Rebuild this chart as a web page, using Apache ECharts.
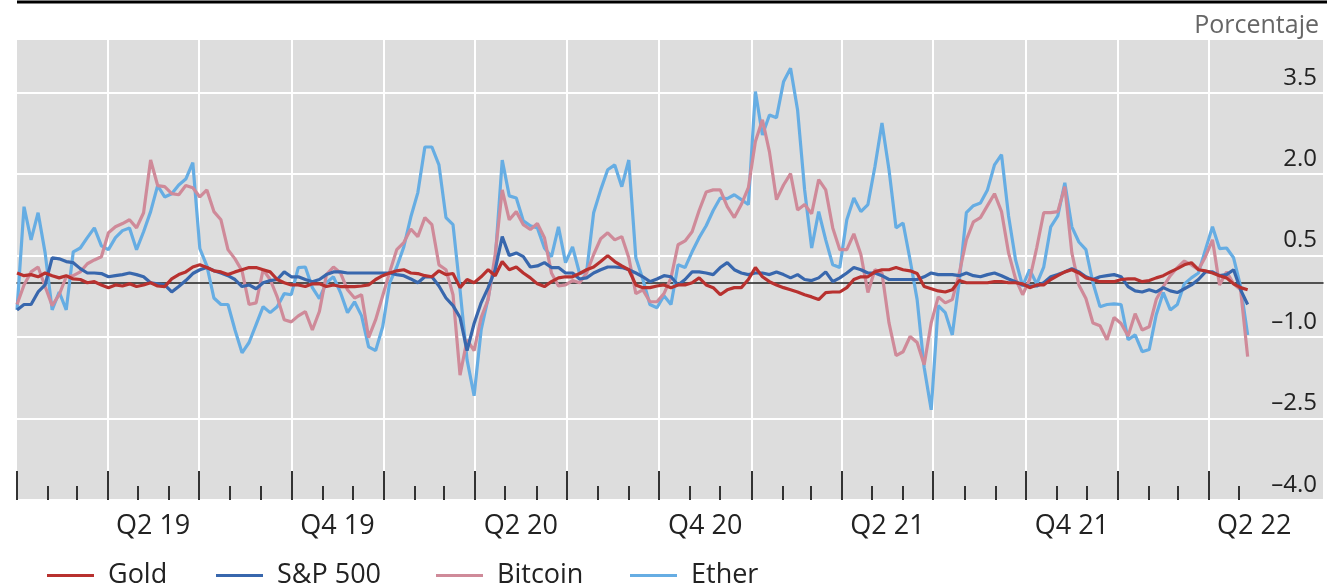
<!DOCTYPE html>
<html>
<head>
<meta charset="utf-8">
<script src="https://cdn.jsdelivr.net/npm/echarts@6/dist/echarts.min.js"></script>
<style>
  html, body { margin: 0; padding: 0; background: #ffffff; }
  #chart { width: 1336px; height: 587px; }
</style>
</head>
<body>
<div id="chart"></div>
<script>
// Weekly observations starting 1 January 2019
const startDate = [2019, 0, 1];
const stepDays = 7;

// Rolling return-to-volatility measures, in per cent
const gold = [0.18,0.13,0.15,0.11,0.18,0.13,0.09,0.13,0.07,0.06,
  0.00,0.02,-0.04,-0.09,-0.04,-0.06,-0.02,-0.07,-0.04,0.00,
  -0.06,-0.07,0.07,0.15,0.20,0.29,0.33,0.28,0.22,0.20,
  0.15,0.20,0.24,0.28,0.28,0.24,0.20,0.06,0.00,-0.04,
  -0.04,-0.07,-0.02,-0.02,-0.07,-0.04,-0.07,-0.07,-0.07,-0.06,
  -0.04,0.06,0.13,0.18,0.22,0.24,0.18,0.17,0.13,0.11,
  0.22,0.15,0.17,-0.09,0.06,0.00,0.11,0.24,0.13,0.39,
  0.24,0.29,0.18,0.09,-0.02,-0.07,0.02,0.09,0.11,0.11,
  0.17,0.24,0.29,0.39,0.50,0.39,0.31,0.24,-0.04,-0.09,
  -0.09,-0.06,-0.04,-0.09,-0.04,-0.04,0.00,0.09,-0.04,-0.09,
  -0.22,-0.13,-0.09,-0.09,0.06,0.28,0.11,0.02,-0.04,-0.09,
  -0.13,-0.17,-0.22,-0.26,-0.31,-0.18,-0.17,-0.17,-0.09,0.06,
  0.11,0.11,0.20,0.24,0.24,0.28,0.24,0.22,0.17,-0.07,
  -0.11,-0.15,-0.17,-0.13,0.04,0.00,0.00,0.00,0.00,0.02,
  0.02,0.00,0.00,-0.02,-0.09,-0.04,-0.04,0.06,0.13,0.20,
  0.24,0.18,0.09,0.06,0.02,0.02,0.02,0.06,0.07,0.07,
  0.02,0.04,0.09,0.13,0.20,0.26,0.33,0.37,0.24,0.22,
  0.18,0.13,0.09,-0.02,-0.09,-0.13];

const sp500 = [-0.50,-0.40,-0.40,-0.17,-0.04,0.46,0.44,0.39,0.37,0.26,
  0.18,0.18,0.17,0.11,0.13,0.15,0.18,0.15,0.11,0.00,
  -0.02,-0.04,-0.17,-0.07,0.04,0.17,0.24,0.28,0.22,0.18,
  0.13,0.06,-0.07,-0.04,-0.11,0.00,0.04,0.06,0.20,0.11,
  0.11,0.06,0.02,0.06,0.15,0.20,0.20,0.18,0.18,0.18,
  0.18,0.18,0.18,0.18,0.15,0.13,0.07,0.00,0.11,0.11,
  -0.06,-0.28,-0.42,-0.64,-1.25,-0.75,-0.37,-0.09,0.24,0.85,
  0.50,0.55,0.48,0.29,0.31,0.37,0.28,0.28,0.18,0.18,
  0.07,0.09,0.18,0.24,0.29,0.29,0.28,0.24,0.18,0.11,
  0.02,0.07,0.13,0.11,-0.04,0.06,0.20,0.20,0.18,0.15,
  0.28,0.37,0.24,0.18,0.15,0.18,0.18,0.15,0.20,0.15,
  0.09,0.15,0.06,0.04,0.09,0.20,0.02,0.09,0.18,0.28,
  0.24,0.18,0.18,0.13,0.06,0.06,0.06,0.06,0.06,0.11,
  0.18,0.15,0.15,0.15,0.13,0.18,0.13,0.11,0.15,0.18,
  0.13,0.07,0.02,-0.04,-0.06,-0.06,0.00,0.11,0.15,0.20,
  0.26,0.20,0.11,0.06,0.11,0.13,0.15,0.11,-0.07,-0.15,
  -0.17,-0.13,-0.17,-0.09,-0.15,-0.18,-0.11,-0.04,0.06,0.20,
  0.20,0.13,0.15,0.24,-0.13,-0.40];

const bitcoin = [-0.40,-0.04,0.20,0.29,-0.07,-0.42,-0.22,0.11,0.13,0.20,
  0.35,0.42,0.48,0.92,1.03,1.09,1.16,1.01,1.29,2.26,
  1.79,1.77,1.64,1.62,1.79,1.75,1.58,1.71,1.31,1.16,
  0.61,0.44,0.22,-0.40,-0.37,0.24,0.06,-0.26,-0.68,-0.72,
  -0.61,-0.53,-0.87,-0.53,0.15,0.29,0.18,-0.13,-0.28,-0.22,
  -1.01,-0.68,-0.24,0.20,0.61,0.74,0.99,0.85,1.20,1.07,
  0.33,0.24,-0.22,-1.70,-1.05,-1.25,-0.64,-0.31,0.52,1.71,
  1.16,1.31,1.07,0.98,1.09,0.83,0.18,-0.06,-0.04,0.04,
  0.00,0.18,0.52,0.81,0.92,0.79,0.85,0.46,-0.20,-0.13,
  -0.35,-0.35,-0.20,0.09,0.70,0.77,0.94,1.33,1.67,1.71,
  1.71,1.40,1.20,1.44,1.75,2.60,3.00,2.41,1.53,1.80,
  2.01,1.34,1.44,1.27,1.90,1.71,1.01,0.61,0.61,0.90,
  0.52,-0.18,0.24,0.18,-0.74,-1.34,-1.27,-0.99,-1.10,-1.51,
  -0.74,-0.26,-0.37,-0.31,0.18,0.79,1.12,1.20,1.42,1.64,
  1.31,0.55,0.07,-0.22,0.06,0.64,1.29,1.29,1.31,1.77,
  0.55,-0.04,-0.29,-0.74,-0.79,-1.05,-0.64,-0.75,-0.98,-0.57,
  -0.87,-0.81,-0.31,-0.07,0.13,0.28,0.40,0.33,0.24,0.48,
  0.79,-0.04,0.20,-0.02,-0.13,-1.36];

const ether = [-0.50,1.40,0.79,1.29,0.55,-0.50,-0.17,-0.50,0.57,0.64,
  0.83,1.01,0.68,0.61,0.83,0.96,1.01,0.61,0.94,1.31,
  1.79,1.58,1.64,1.80,1.91,2.21,0.63,0.31,-0.28,-0.40,
  -0.40,-0.87,-1.29,-1.10,-0.77,-0.44,-0.55,-0.44,-0.20,-0.22,
  0.28,0.29,-0.09,-0.29,0.00,0.11,-0.18,-0.55,-0.35,-0.61,
  -1.18,-1.25,-0.81,0.00,0.29,0.66,1.21,1.66,2.50,2.50,
  2.17,1.20,1.07,-0.13,-1.42,-2.08,-0.87,-0.28,0.42,2.26,
  1.60,1.56,1.14,1.05,1.01,0.64,0.48,1.03,0.37,0.66,
  0.17,0.20,1.29,1.71,2.08,2.17,1.77,2.26,0.46,0.06,
  -0.40,-0.46,-0.24,-0.40,0.33,0.28,0.57,0.83,1.05,1.33,
  1.56,1.55,1.62,1.53,1.44,3.52,2.72,3.09,3.04,3.70,
  3.95,3.18,1.71,0.64,1.31,0.79,0.33,0.28,1.16,1.56,
  1.31,1.44,2.14,2.94,2.08,1.01,1.10,0.42,-0.31,-1.56,
  -2.34,-0.42,-0.55,-0.96,0.04,1.29,1.42,1.47,1.71,2.17,
  2.36,1.23,0.42,-0.06,0.24,-0.02,0.29,1.03,1.23,1.84,
  1.03,0.75,0.61,0.00,-0.44,-0.40,-0.39,-0.40,-1.05,-0.96,
  -1.27,-1.23,-0.59,-0.18,-0.50,-0.40,-0.02,0.09,0.18,0.61,
  1.03,0.63,0.64,0.46,-0.07,-0.96];

const seriesNames = ['Gold', 'S&P 500', 'Bitcoin', 'Ether'];
const seriesColors = ['#b8312f', '#3867ad', '#cf8a99', '#66ade3'];

// Axis labels, one per half-year, centred on their quarter
const quarterLabels = ['Q2 19', 'Q4 19', 'Q2 20', 'Q4 20', 'Q2 21', 'Q4 21', 'Q2 22'];

// Value axis: ticks every 1.5 from -4.0
const yMin = -4;
const yMax = 4.47;
const yStep = 1.5;

const DAY = 86400000;
const t0 = Date.UTC(startDate[0], startDate[1], startDate[2]);
const xMin = t0;
const xMax = Date.UTC(2022, 6, 24);

const dates = ether.map((_, i) => t0 + i * stepDays * DAY);
const pairs = vals => vals.map((v, i) => [dates[i], v]);

// Quarter starts and the remaining month starts, Jan 2019 to May 2022
const quarterStarts = [];
const monthStarts = [];
for (let y = 2019; y <= 2022; y++) {
  for (let m = 0; m < 12; m++) {
    const t = Date.UTC(y, m, 1);
    if (t > Date.UTC(2022, 4, 1)) break;
    if (m % 3 === 0) quarterStarts.push(t); else monthStarts.push(t);
  }
}

// Label positions: the middle of each labelled quarter
const labelValues = quarterLabels.map(s => {
  const q = +s[1];
  const yr = 2000 + +s.slice(3);
  const a = Date.UTC(yr, (q - 1) * 3, 1);
  const b = Date.UTC(yr, q * 3, 1);
  return Math.round((a + b) / 2);
});

const FONT = 'Open Sans';

const chart = echarts.init(document.getElementById('chart'), null, { renderer: 'canvas' });

const styleOf = i => ({ color: seriesColors[i], width: 3.2 });

// One legend block per series so each entry sits at its own offset
const legendLefts = [47, 216, 436, 630];
const legends = seriesNames.map((name, i) => ({
  data: [name],
  left: legendLefts[i],
  top: 562,
  padding: 0,
  icon: 'rect',
  itemWidth: 47,
  itemHeight: 3,
  selectedMode: false,
  textStyle: { fontFamily: FONT, fontSize: 27, color: '#222222', padding: [0, 0, 0, 9] }
}));

chart.setOption({
  animation: false,
  backgroundColor: '#ffffff',
  textStyle: { fontFamily: FONT },
  title: {
    text: 'Porcentaje',
    right: 12,
    top: 8,
    textStyle: { fontFamily: FONT, fontSize: 25, fontWeight: 'normal', color: '#666666' }
  },
  graphic: [{
    type: 'rect',
    shape: { x: 17, y: 0.5, width: 1310, height: 3 },
    style: { fill: '#000000' },
    silent: true
  }],
  legend: legends,
  grid: {
    left: 17, right: 13, top: 40, bottom: 87,
    show: true, backgroundColor: '#dddddd', borderWidth: 0
  },
  xAxis: [
    {
      // data axis (timestamps); its line marks the zero level
      type: 'value', min: xMin, max: xMax,
      axisLine: { show: true, onZero: true, lineStyle: { color: '#222222', width: 1.5 } },
      axisTick: { show: false }, axisLabel: { show: false }, splitLine: { show: false }
    },
    {
      // quarter ticks, grid lines and labels
      type: 'value', min: xMin, max: xMax, position: 'bottom',
      axisLine: { show: false, onZero: false },
      axisTick: {
        show: true, inside: true, length: 29,
        lineStyle: { color: '#333333', width: 2 },
        customValues: quarterStarts
      },
      splitLine: { show: true, showMinLine: false, lineStyle: { color: '#ffffff', width: 2 } },
      axisLabel: {
        show: true, customValues: labelValues, margin: 13,
        fontFamily: FONT, fontSize: 27, color: '#222222',
        formatter: v => {
          const k = labelValues.indexOf(v);
          return k >= 0 ? quarterLabels[k] : '';
        }
      }
    },
    {
      // monthly minor ticks
      type: 'value', min: xMin, max: xMax, position: 'bottom',
      axisLine: { show: false, onZero: false },
      axisTick: {
        show: true, inside: true, length: 14,
        lineStyle: { color: '#333333', width: 2 },
        customValues: monthStarts
      },
      splitLine: { show: false }, axisLabel: { show: false }
    }
  ],
  yAxis: {
    type: 'value', position: 'right', min: yMin, max: yMax, interval: yStep,
    axisLine: { show: false }, axisTick: { show: false },
    splitLine: { show: true, showMaxLine: false, lineStyle: { color: '#ffffff', width: 2 } },
    axisLabel: {
      inside: true, margin: 6, fontFamily: FONT, fontSize: 24, color: '#222222',
      verticalAlign: 'bottom', padding: [0, 0, 3, 0],
      formatter: v => {
        const k = (v - yMin) / yStep;
        if (Math.abs(k - Math.round(k)) > 1e-6) return '';
        return v.toFixed(1).replace('-', '\u2013');
      }
    }
  },
  series: [
    { name: 'Ether', type: 'line', xAxisIndex: 0, data: pairs(ether), symbol: 'none', lineStyle: styleOf(3), itemStyle: { color: seriesColors[3] }, z: 2 },
    { name: 'Bitcoin', type: 'line', xAxisIndex: 0, data: pairs(bitcoin), symbol: 'none', lineStyle: styleOf(2), itemStyle: { color: seriesColors[2] }, z: 3 },
    { name: 'S&P 500', type: 'line', xAxisIndex: 0, data: pairs(sp500), symbol: 'none', lineStyle: styleOf(1), itemStyle: { color: seriesColors[1] }, z: 4 },
    { name: 'Gold', type: 'line', xAxisIndex: 0, data: pairs(gold), symbol: 'none', lineStyle: styleOf(0), itemStyle: { color: seriesColors[0] }, z: 5 }
  ]
});
</script>
</body>
</html>
